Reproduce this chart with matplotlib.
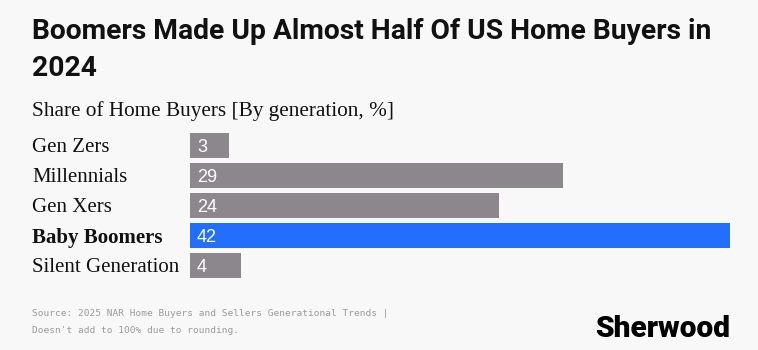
import matplotlib
matplotlib.use("Agg")
import matplotlib.pyplot as plt

categories = ["Gen Zers", "Millennials", "Gen Xers", "Baby Boomers", "Silent Generation"]
values = [3, 29, 24, 42, 4]
highlight = "Baby Boomers"

W, H = 758, 350
BG = "#f8f8f8"
GRAY = "#8c878c"
BLUE = "#226ffe"

fig = plt.figure(figsize=(W / 100, H / 100), dpi=100, facecolor=BG)

def fx(px):
    return px / W

def fy(py):
    return 1 - py / H

ax_left, ax_right = 190, 730
ax_top, ax_bot = 130.5, 280.5
ax = fig.add_axes([fx(ax_left), fy(ax_bot), fx(ax_right - ax_left), (ax_bot - ax_top) / H])
ax.set_facecolor(BG)
ax.set_xlim(0, max(values))
ax.set_ylim(len(categories) - 0.5, -0.5)
ax.axis("off")

colors = [BLUE if c == highlight else GRAY for c in categories]
ax.barh(range(len(categories)), values, height=25 / 30, color=colors)

for i, (c, v) in enumerate(zip(categories, values)):
    ax.annotate(str(v), xy=(0, i), xytext=(7, 0), textcoords="offset pixels",
                ha="left", va="center_baseline", color="white", fontsize=13,
                family="Liberation Sans")
    ax.annotate(c, xy=(0, i), xycoords=("axes fraction", "data"),
                xytext=(32 - ax_left, 0), textcoords="offset pixels",
                ha="left", va="center_baseline", color="#111111", fontsize=15,
                family="Liberation Serif",
                fontweight="bold" if c == highlight else "normal")

fig.text(fx(32), fy(39), "Boomers Made Up Almost Half Of US Home Buyers in",
         ha="left", va="baseline", fontsize=20.3, fontweight="bold",
         family="Roboto", color="#111111")
fig.text(fx(32), fy(76), "2024",
         ha="left", va="baseline", fontsize=20.3, fontweight="bold",
         family="Roboto", color="#111111")
fig.text(fx(32), fy(116), "Share of Home Buyers [By generation, %]",
         ha="left", va="baseline", fontsize=15.3, family="Liberation Serif",
         color="#111111")
fig.text(fx(32), fy(316), "Source: 2025 NAR Home Buyers and Sellers Generational Trends |",
         ha="left", va="baseline", fontsize=6.8, family="DejaVu Sans Mono", color="#9a9a9a")
fig.text(fx(32), fy(333), "Doesn't add to 100% due to rounding.",
         ha="left", va="baseline", fontsize=6.8, family="DejaVu Sans Mono", color="#9a9a9a")
fig.text(fx(730), fy(337), "Sherwood", ha="right", va="baseline", fontsize=21.5,
         fontweight="black", family="Roboto", color="#000000")

fig.savefig("out.png", dpi=100, facecolor=BG)
